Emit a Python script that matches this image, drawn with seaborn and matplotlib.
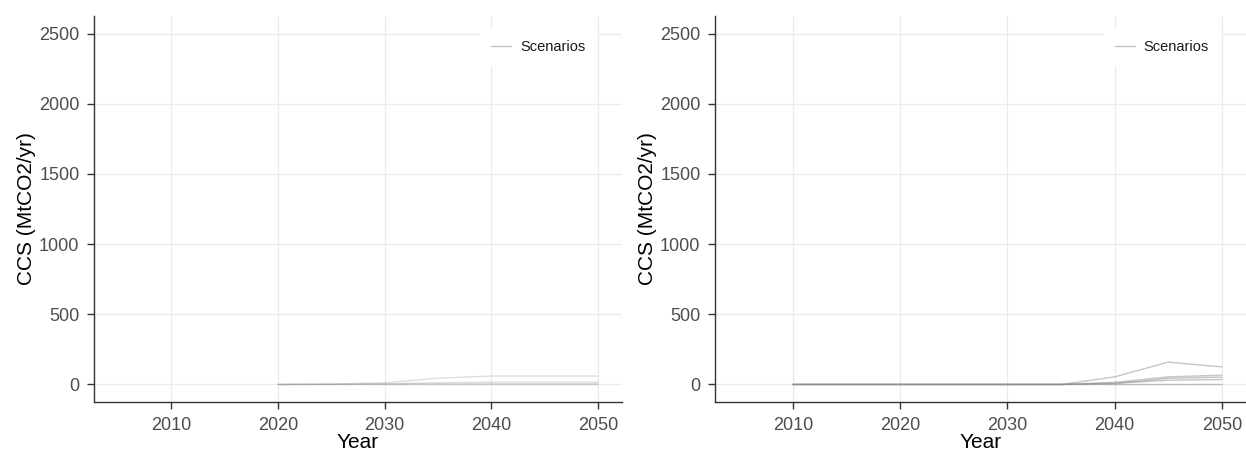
import numpy as np
import pandas as pd
import matplotlib
matplotlib.use("Agg")
import matplotlib.pyplot as plt
from matplotlib.lines import Line2D
import seaborn as sns

# CCS pathways, MtCO2/yr
years_left = [2020, 2025, 2030, 2035, 2040, 2045, 2050]
left_a = [0, 3, 12, 45, 60, 60, 60]
left_b = [0, 1, 5, 12, 17, 17, 17]
left_c = [0, 0, 2, 4, 5, 5, 5]
left_d = [0, 0, 0, 0, 0, 0, 0]

years_right = [2010, 2015, 2020, 2025, 2030, 2035, 2040, 2045, 2050]
right_a = [0, 0, 0, 0, 0, 0, 54, 159, 125]
right_b = [0, 0, 0, 0, 0, 0, 15, 54, 66]
right_c = [0, 0, 0, 0, 0, 0, 5, 44, 52]
right_d = [0, 0, 0, 0, 0, 0, 10, 30, 35]
right_e = [0, 0, 0, 0, 0, 0, 0, 0, 0]

y_ticks = [0, 500, 1000, 1500, 2000, 2500]
x_ticks = [2010, 2020, 2030, 2040, 2050]
legend_label = "Scenarios"


def long_frame(years, series):
    rows = []
    for name, vals in series.items():
        for yr, v in zip(years, vals):
            rows.append({"Year": yr, "value": v, "scenario": name})
    return pd.DataFrame(rows)


df_left = long_frame(years_left, {"a": left_a, "b": left_b, "c": left_c, "d": left_d})
df_right = long_frame(years_right, {"a": right_a, "b": right_b, "c": right_c,
                                    "d": right_d, "e": right_e})

sns.set_theme(style="white")
plt.rcParams["font.family"] = ["Liberation Sans", "DejaVu Sans"]

fig = plt.figure(figsize=(12.46, 4.53), dpi=100)
W, H = 1246, 453
ax_l = fig.add_axes([94 / W, 1 - 402 / H, 528 / W, 386 / H])
ax_r = fig.add_axes([715 / W, 1 - 402 / H, 531 / W, 386 / H])

for ax, df, alpha in ((ax_l, df_left, 0.28), (ax_r, df_right, 0.5)):
    scen = df["scenario"].unique()
    sns.lineplot(data=df, x="Year", y="value", hue="scenario",
                 palette={s: "#8c8c8c" for s in scen}, alpha=alpha,
                 linewidth=1.0, legend=False, ax=ax, errorbar=None)
    ax.set_xlim(2002.75, 2052.25)
    ax.set_ylim(-125, 2625)
    ax.set_xticks(x_ticks)
    ax.set_yticks(y_ticks)
    ax.grid(True, color="#ebebeb", linewidth=0.9)
    ax.set_axisbelow(True)
    for side in ("top", "right"):
        ax.spines[side].set_visible(False)
    for side in ("left", "bottom"):
        ax.spines[side].set_color("#333333")
        ax.spines[side].set_linewidth(1.0)
    ax.tick_params(axis="both", which="major", length=5, width=1.0,
                   color="#333333", labelcolor="#4d4d4d", labelsize=13,
                   direction="out", bottom=True, left=True)
    ax.tick_params(axis="x", pad=5.5)
    ax.tick_params(axis="y", pad=5.5)
    ax.set_xlabel("Year", fontsize=15, color="black", labelpad=-0.5)
    ax.set_ylabel("CCS (MtCO2/yr)", fontsize=15, color="black", labelpad=2)
    handle = Line2D([], [], color="#c4c4c4", linewidth=1.0)
    leg = ax.legend([handle], [legend_label], loc="upper right",
                    bbox_to_anchor=(0.951, 0.966), borderaxespad=0,
                    frameon=True, fontsize=10.5, handlelength=1.4,
                    handletextpad=0.6, borderpad=0.75)
    leg.get_frame().set_facecolor("white")
    leg.get_frame().set_edgecolor("white")
    leg.get_frame().set_alpha(1.0)
    leg.get_frame().set_boxstyle("square", pad=0)
    for t in leg.get_texts():
        t.set_color("#1a1a1a")

fig.savefig("out.png", dpi=100)
